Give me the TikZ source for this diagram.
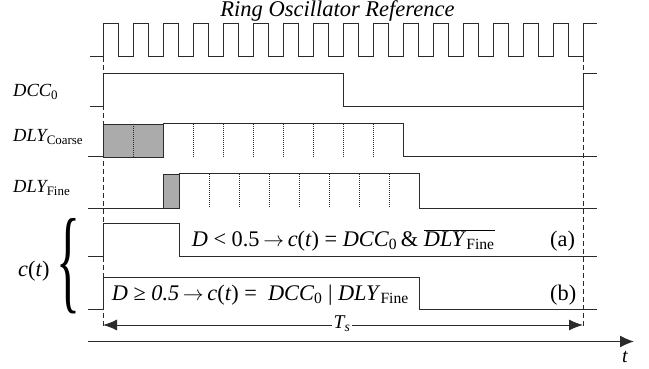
\documentclass[tikz,border=0pt]{standalone}
\usepackage{fontspec}
\setmainfont{Liberation Serif}
\usepackage{graphicx}
\usetikzlibrary{arrows.meta}
\newcommand\sbs[1]{\textsubscript{\upshape #1}}
\newcommand\goesto{\,$\rightarrow$\,}
\definecolor{ink}{HTML}{2B2B2B}
\definecolor{shade}{HTML}{ABABAB}
\begin{document}
\begin{tikzpicture}[x=1pt,y=-1pt,
  sig/.style={draw=ink,line width=1pt,line join=miter},
  tick/.style={draw=ink,line width=0.6pt,dash pattern=on 1pt off 1pt},
  guide/.style={draw=ink,line width=0.8pt,dash pattern=on 5pt off 3pt},
  lbl/.style={font=\fontsize{18.5}{20}\selectfont\itshape,inner sep=0pt},
  eq/.style={font=\fontsize{22.3}{24}\selectfont,inner sep=0pt},
  unc/.style={fill=shade,draw=ink,line width=0.8pt}]
\useasboundingbox (0,0) rectangle (649,369);

% ring oscillator clock
\node[lbl,font=\fontsize{22.5}{24}\selectfont\itshape,anchor=base] (rotitle) at (337.5,16.7) {Ring Oscillator Reference};
\draw[sig] (90,57) -- (103,57)
  foreach \k in {0,...,15} { -- ({103+30*\k},24) -- ({118+30*\k},24) -- ({118+30*\k},57) -- ({133+30*\k},57) }
  -- (583,24) -- (597,24);

% DCC_0
\node[lbl,anchor=base west] (dcclbl) at (13,97) {DCC\sbs{0}};
\draw[sig] (90,107) -- (103,107) -- (103,74) -- (343,74) -- (343,107) -- (583,107) -- (583,74) -- (597,74);

% DLY_Coarse
\node[lbl,anchor=base west] (coarselbl) at (13,141.7) {DLY\sbs{Coarse}};
\draw[unc] (103,124) rectangle (163,157);
\draw[tick] (133,124) -- (133,157);
\draw[sig] (88,157) -- (103,157);
\draw[sig] (163,157) -- (163,124) -- (403,124) -- (403,157) -- (597,157);
\foreach \k in {0,...,6} \draw[tick] ({193+30*\k},124) -- ({193+30*\k},157);

% DLY_Fine
\node[lbl,anchor=base west] (finelbl) at (13,192.7) {DLY\sbs{Fine}};
\draw[unc] (163,174) rectangle (179,208);
\draw[sig] (88,208) -- (163,208);
\draw[sig] (179,208) -- (179,174) -- (419,174) -- (419,208) -- (597,208);
\foreach \k in {0,...,6} \draw[tick] ({209+30*\k},174) -- ({209+30*\k},208);

% c(t), case (a)
\draw[sig] (88,256) -- (103,256) -- (103,223) -- (179,223) -- (179,256) -- (597,256);
\node[eq,anchor=base west] (eqa) at (191.7,246) {\textit{D} < 0.5\goesto\textit{c}(\textit{t}) = \textit{DCC}\sbs{0}\,\& $\overline{\hbox{\textit{DLY}\sbs{Fine}}}$};
\node[eq,anchor=base west] (taga) at (550,246) {(a)};

% c(t), case (b)
\draw[sig] (88,309) -- (103,309) -- (103,277) -- (419,277) -- (419,309) -- (597,309);
\node[eq,anchor=base west] (eqb) at (111.7,300) {\textit{D} ≥ \textit{0.5}\goesto\textit{c}(\textit{t}) =\ \ \textit{DCC}\sbs{0} | \textit{DLY}\sbs{Fine}};
\node[eq,anchor=base west] (tagb) at (550,300) {(b)};

% brace and label
\node[inner sep=0pt] (brace) at (69,266.5) {\resizebox{24pt}{80pt}{\{}};
\node[eq,anchor=base west] (clbl) at (18,276) {\textit{c}(\textit{t})};

% sampling window guides
\coordinate (gl0) at (103,57);
\coordinate (gl1) at (103,327);
\coordinate (gr0) at (583,57);
\coordinate (gr1) at (583,327);
\draw[guide] (gl0) -- (gl1);
\draw[guide] (gr0) -- (gr1);

% period arrow
\coordinate (tsl) at (103,325);
\coordinate (tsr) at (583,325);
\draw[draw=ink,line width=1pt,{Latex[length=14pt,width=11pt]}-{Latex[length=14pt,width=11pt]}] (tsl) -- (tsr);
\node[lbl,font=\fontsize{19.5}{21}\selectfont\itshape,fill=white,inner sep=1.5pt] (tslbl) at (342,324) {T\textsubscript{s}};

% time axis
\coordinate (ax0) at (88,341.5);
\coordinate (ax1) at (634,341.5);
\draw[draw=ink,line width=1.2pt,-{Latex[length=14pt,width=12pt]}] (ax0) -- (ax1);
\node[lbl,font=\fontsize{20}{21}\selectfont\itshape,anchor=base] (tlbl) at (625,362) {t};
\end{tikzpicture}
\end{document}
